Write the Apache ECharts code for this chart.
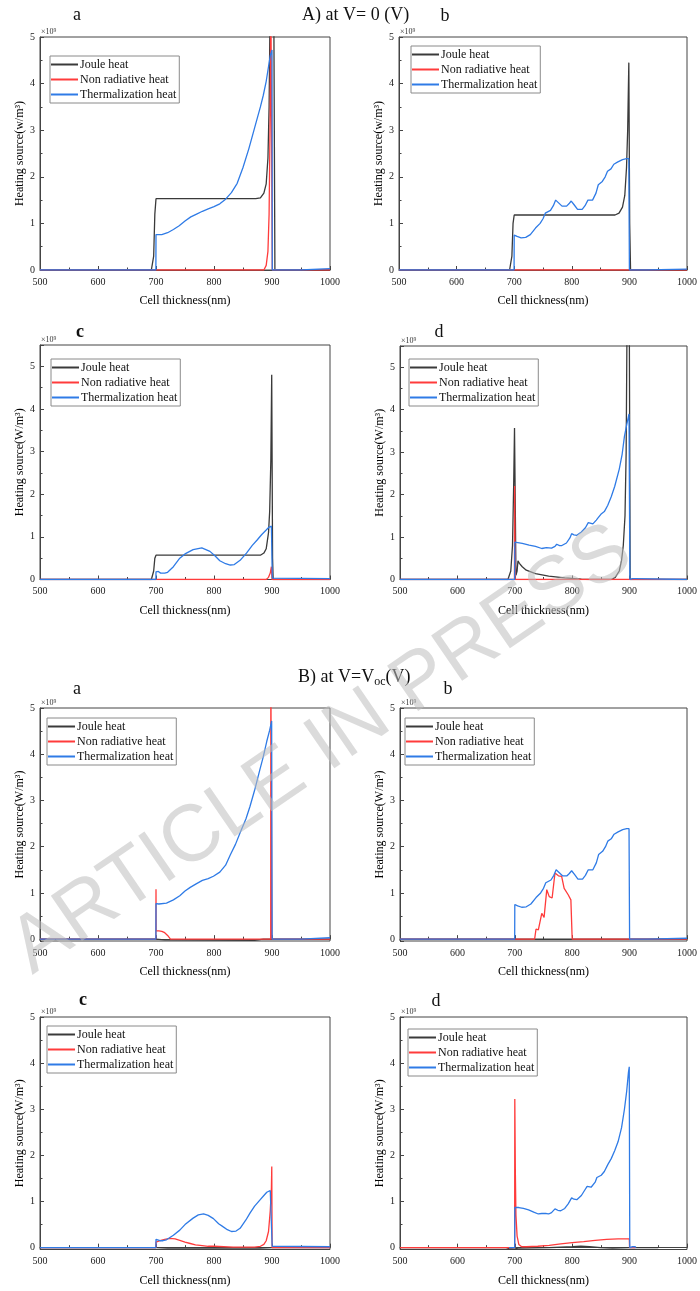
<!DOCTYPE html>
<html><head><meta charset="utf-8">
<script src="https://cdn.jsdelivr.net/npm/echarts@6/dist/echarts.min.js"></script>
<style>html,body{margin:0;padding:0;background:#fff}#c{width:700px;height:1291px}</style>
</head><body><div id="c"></div>
<script>
// ---------- tick labels ----------
const xTickValues = [500, 600, 700, 800, 900, 1000];
const yTickValues = [0, 1, 2, 3, 4, 5];
const seriesNames = ['Joule heat', 'Non radiative heat', 'Thermalization heat'];

// ---------- A) at V = 0 ----------
const A_a_joule = [[500,0],[692,0],[696,0.3],[698,1.2],[700,1.53],[800,1.53],[872,1.53],[880,1.55],[886,1.65],[890,1.85],[893,2.4],[895,3.5],[897,6],[903,6],[905,0],[1000,0]];
const A_a_nonrad = [[500,0],[886,0],[890,0.1],[893,0.4],[895,1.2],[897,3.5],[898,6],[899.5,6],[900.5,0],[1000,0]];
const A_a_therm = [[500,0],[699.8,0],[700,0.76],[710,0.76],[720,0.8],[730,0.87],[740,0.95],[750,1.05],[760,1.14],[770,1.2],[780,1.26],[790,1.31],[800,1.36],[810,1.42],[820,1.52],[830,1.66],[840,1.86],[850,2.2],[860,2.6],[870,3.05],[880,3.5],[885,3.75],[890,4.05],[897,4.6],[900,4.72],[900.5,0],[950,0],[951,0.03],[1000,0.03]];

const A_b_joule = [[500,0],[692,0],[696,0.3],[698,1.0],[700,1.18],[800,1.18],[875,1.18],[882,1.22],[888,1.35],[892,1.6],[895,2.2],[897,3.0],[899,4.45],[900.5,1.0],[902,0],[1000,0]];
const A_b_nonrad = [[500,0],[1000,0]];
const A_b_therm = [[500,0],[699.8,0],[700,0.75],[705,0.72],[712,0.69],[720,0.7],[728,0.76],[737,0.9],[745,1.0],[750,1.1],[754,1.22],[763,1.28],[768,1.38],[772,1.5],[778,1.43],[783,1.37],[791,1.37],[795,1.42],[799,1.48],[804,1.4],[810,1.3],[818,1.3],[823,1.38],[828,1.5],[836,1.5],[842,1.65],[846,1.83],[853,1.9],[858,2.0],[862,2.12],[868,2.17],[873,2.27],[880,2.32],[888,2.37],[895,2.39],[899,2.39],[900,0],[930,0],[931,0.02],[1000,0.02]];

const A_c_joule = [[500,0],[692,0],[696,0.2],[698,0.5],[700,0.57],[800,0.57],[880,0.57],[886,0.62],[890,0.72],[894,1.1],[896,1.6],[898,2.8],[899.5,4.8],[901,0.5],[902,0],[1000,0]];
const A_c_nonrad = [[500,0],[890,0],[894,0.05],[897,0.15],[899,0.3],[900,0],[1000,0]];
const A_c_therm = [[500,0],[699.8,0],[700,0.18],[704,0.19],[708,0.15],[715,0.15],[720,0.17],[730,0.3],[741,0.5],[750,0.6],[764,0.7],[779,0.74],[793,0.66],[802,0.55],[810,0.44],[820,0.37],[828,0.34],[835,0.35],[845,0.45],[856,0.62],[866,0.8],[874,0.92],[882,1.05],[890,1.16],[895,1.23],[899,1.25],[900.5,0.03],[1000,0.02]];

const A_d_joule = [[500,0],[688,0],[693,0.2],[696,0.8],[698,2.2],[699.5,3.57],[701,1.5],[702,0.1],[704,0.2],[705.5,0.44],[708,0.38],[713,0.3],[720,0.22],[736,0.14],[759,0.08],[787,0.04],[816,0.01],[830,0],[868,0],[875,0.05],[882,0.2],[886,0.45],[889,0.8],[892,1.5],[894,3],[895.5,6],[899.5,6],[901,0],[1000,0]];
const A_d_nonrad = [[500,0],[699.4,0],[699.7,2.2],[700.3,2.2],[700.6,0],[1000,0]];
const A_d_therm = [[500,0],[699.8,0],[700,0.88],[713,0.85],[725,0.81],[736,0.78],[747,0.73],[755,0.75],[758,0.77],[764,0.74],[770,0.78],[773,0.83],[778,0.8],[782,0.8],[790,0.86],[796,0.98],[799,1.08],[803,1.05],[808,1.04],[816,1.12],[823,1.22],[828,1.34],[836,1.31],[842,1.4],[845,1.45],[851,1.55],[856,1.6],[862,1.75],[868,1.95],[874,2.19],[882,2.6],[887,2.95],[891,3.37],[895,3.65],[899,3.9],[900.5,0],[905,0.02],[910,0.02],[911,0],[1000,0]];

// ---------- B) at V = Voc ----------
const B_a_joule = [[500,0],[700,0],[715,-0.015],[800,-0.02],[870,-0.025],[885,0],[1000,0]];
const B_a_nonrad = [[500,0],[699.8,0],[700,1.08],[700.3,0.18],[705,0.18],[710,0.17],[715,0.14],[720,0.08],[725,0],[897.8,0],[898,6],[899.5,6],[899.7,0],[1000,0]];
const B_a_therm = [[500,0],[699.8,0],[700,0.77],[705,0.76],[718,0.78],[730,0.85],[741,0.94],[750,1.04],[759,1.12],[770,1.2],[780,1.27],[790,1.31],[799,1.36],[810,1.45],[820,1.6],[828,1.82],[837,2.05],[845,2.3],[855,2.6],[862,2.87],[870,3.22],[879,3.66],[885,3.95],[891,4.28],[896,4.52],[899.4,4.72],[900.3,0],[950,0],[951,0.03],[1000,0.03]];

const B_b_joule = [[500,0],[1000,0]];
const B_b_nonrad = [[500,0],[734.5,0],[737,0.22],[741,0.2],[743,0.22],[747,0.56],[751,0.47],[755.7,1.07],[760,0.92],[765,0.89],[770,1.43],[776,1.37],[781.6,1.36],[786,1.1],[793,0.96],[797.7,0.85],[800,0],[812,0],[813,0.02],[815,0],[1000,0]];
const B_b_therm = [[500,0],[699.8,0],[700,0.75],[705,0.72],[712,0.69],[720,0.7],[728,0.76],[737,0.9],[745,1.0],[750,1.1],[754,1.22],[763,1.28],[768,1.38],[772,1.5],[778,1.43],[783,1.37],[791,1.37],[795,1.42],[799,1.48],[804,1.4],[810,1.3],[818,1.3],[823,1.38],[828,1.5],[836,1.5],[842,1.65],[846,1.83],[853,1.9],[858,2.0],[862,2.12],[868,2.17],[873,2.27],[880,2.32],[888,2.37],[895,2.39],[899,2.39],[900,0],[930,0],[931,0.02],[1000,0.02]];

const B_c_joule = [[500,0],[700,0],[720,-0.01],[880,-0.01],[900,0],[1000,0]];
const B_c_nonrad = [[500,0],[699.8,0],[700,0.12],[707,0.15],[715,0.18],[724,0.2],[733,0.19],[741,0.16],[750,0.12],[759,0.09],[768,0.06],[776,0.05],[790,0.03],[800,0.03],[833,0.01],[870,0.01],[880,0.03],[886,0.07],[890,0.15],[894,0.35],[897,0.8],[899,1.3],[899.6,1.76],[900.2,0],[1000,0]];
const B_c_therm = [[500,0],[699.8,0],[700,0.18],[703,0.19],[707,0.15],[712,0.15],[718,0.17],[730,0.27],[741,0.38],[750,0.5],[764,0.64],[773,0.71],[782,0.73],[790,0.7],[799,0.63],[808,0.52],[816,0.45],[823,0.39],[830,0.35],[838,0.36],[845,0.42],[855,0.6],[862,0.75],[870,0.9],[879,1.03],[886,1.13],[891,1.2],[897,1.24],[899.5,1.25],[900.3,0.03],[1000,0.02]];

const B_d_joule = [[500,0],[685,0],[690,-0.02],[700,-0.03],[705,-0.01],[760,0],[800,0.02],[815,0.03],[830,0.02],[850,0],[870,-0.01],[900,0],[950,0]];
const B_d_nonrad = [[500,0],[699.7,0],[700,3.22],[701,1.6],[702,0.7],[704,0.25],[707,0.07],[712,0.02],[720,0.02],[740,0.03],[760,0.05],[780,0.08],[800,0.11],[820,0.13],[840,0.16],[860,0.18],[880,0.19],[899.5,0.19],[900,0],[910,0]];
const B_d_therm = [[690,0],[699.8,0],[700,0.87],[707,0.87],[715,0.85],[724,0.82],[733,0.77],[741,0.73],[747,0.74],[750,0.76],[755,0.74],[759,0.73],[764,0.76],[770,0.84],[775,0.81],[780,0.8],[787,0.85],[793,0.95],[799,1.08],[803,1.05],[808,1.04],[816,1.13],[822,1.25],[826,1.33],[833,1.31],[840,1.42],[843,1.52],[850.6,1.57],[856,1.65],[862,1.8],[868,1.93],[874,2.1],[880,2.3],[886,2.6],[891,3.0],[895,3.4],[898,3.8],[899.4,3.92],[900.3,0],[905,0.02],[910,0.02],[911,0]];

// ---------- layout (positions only) ----------
const panels = [
  {d:[A_a_joule,A_a_nonrad,A_a_therm], grid:{left:40,top:37,width:290,height:233}, ymin:0, ymax:5, unit:'w', legend:{left:50,top:56}, letter:{t:'a',x:77,y:15}},
  {d:[A_b_joule,A_b_nonrad,A_b_therm], grid:{left:399,top:37,width:290,height:233}, ymin:0, ymax:5, unit:'w', legend:{left:411,top:46}, letter:{t:'b',x:445,y:16}},
  {d:[A_c_joule,A_c_nonrad,A_c_therm], grid:{left:40,top:345,width:290,height:234.5}, ymin:0, ymax:5.5, unit:'W', legend:{left:51,top:359}, letter:{t:'c',x:80,y:332,bold:true}},
  {d:[A_d_joule,A_d_nonrad,A_d_therm], grid:{left:400,top:346,width:290,height:233.5}, ymin:0, ymax:5.5, unit:'W', legend:{left:409,top:359}, letter:{t:'d',x:439,y:332}},
  {d:[B_a_joule,B_a_nonrad,B_a_therm], grid:{left:40,top:708,width:290,height:233}, ymin:-0.04, ymax:5, unit:'W', legend:{left:47,top:718}, letter:{t:'a',x:77,y:689}},
  {d:[B_b_joule,B_b_nonrad,B_b_therm], grid:{left:400,top:708,width:290,height:233}, ymin:-0.04, ymax:5, unit:'W', legend:{left:405,top:718}, letter:{t:'b',x:448,y:689}},
  {d:[B_c_joule,B_c_nonrad,B_c_therm], grid:{left:40,top:1017,width:290,height:232.5}, ymin:-0.04, ymax:5, unit:'W', legend:{left:47,top:1026}, letter:{t:'c',x:83,y:1000,bold:true}},
  {d:[B_d_joule,B_d_nonrad,B_d_therm], grid:{left:400,top:1017,width:290,height:232.5}, ymin:-0.04, ymax:5, unit:'W', legend:{left:408,top:1029}, letter:{t:'d',x:436,y:1001}}
];

const colors = ['#3a3a3a', '#ff3b3b', '#2f7be6'];
const SERIF = '"Liberation Serif","Times New Roman",serif';
const intLabel = v => {
  const r = Math.round(v);
  return Math.abs(v - r) < 1e-6 && yTickValues.indexOf(r) >= 0 ? String(r) : '';
};

const grids = [], xAxes = [], yAxes = [], series = [], legends = [], graphics = [];
panels.forEach((p, i) => {
  grids.push(Object.assign({show:true, borderColor:'#444', borderWidth:1, backgroundColor:'transparent', containLabel:false}, p.grid));
  xAxes.push({
    type:'value', gridIndex:i, min:xTickValues[0], max:xTickValues[xTickValues.length-1],
    interval:xTickValues[1]-xTickValues[0],
    name:'Cell thickness(nm)', nameLocation:'middle', nameGap:25,
    nameTextStyle:{fontFamily:SERIF, fontSize:12, color:'#000'},
    axisLine:{show:true, lineStyle:{color:'#444', width:1}},
    axisTick:{show:true, inside:true, length:4, lineStyle:{color:'#444'}},
    minorTick:{show:true, splitNumber:2, length:2.5, lineStyle:{color:'#444'}},
    splitLine:{show:false},
    axisLabel:{fontFamily:SERIF, fontSize:10, color:'#222', margin:7, formatter:v => String(v)}
  });
  const y = {
    type:'value', gridIndex:i, min:p.ymin, max:p.ymax,
    name:'Heating source(' + p.unit + '/m³)', nameLocation:'middle', nameGap:14, nameRotate:90,
    nameTextStyle:{fontFamily:SERIF, fontSize:12, color:'#000'},
    axisLine:{show:true, lineStyle:{color:'#444', width:1}},
    axisTick:{show:true, inside:true, length:4, lineStyle:{color:'#444'}},
    minorTick:{show:true, splitNumber:2, length:2.5, lineStyle:{color:'#444'}},
    splitLine:{show:false},
    axisLabel:{fontFamily:SERIF, fontSize:10, color:'#222', margin:5, formatter:intLabel, showMinLabel:true, showMaxLabel:true}
  };
  if (p.ymin === 0) y.interval = yTickValues[1] - yTickValues[0];
  yAxes.push(y);
  seriesNames.forEach((nm, k) => {
    series.push({
      type:'line', name:nm, xAxisIndex:i, yAxisIndex:i, data:p.d[k],
      symbol:'none', showSymbol:false, clip:true, animation:false,
      lineStyle:{color:colors[k], width:1.3}, itemStyle:{color:colors[k]}, z:2+k
    });
  });
  legends.push({
    data:seriesNames, left:p.legend.left, top:p.legend.top, orient:'vertical',
    icon:'rect', itemWidth:27, itemHeight:2, itemGap:2,
    padding:[2,3,2,1], borderColor:'#8a8a8a', borderWidth:1, backgroundColor:'#fff',
    textStyle:{fontFamily:SERIF, fontSize:12, color:'#111', lineHeight:13, padding:[0,0,0,-3]},
    selectedMode:false
  });
  graphics.push({type:'text', left:p.grid.left + 1, top:p.grid.top - 9,
    style:{text:'×10⁹', fontFamily:SERIF, fontSize:8, fill:'#333'}});
  graphics.push({type:'text', x:p.letter.x, y:p.letter.y,
    style:{text:p.letter.t, fontFamily:SERIF, fontSize:18, fontWeight:p.letter.bold?'bold':'normal', fill:'#111', align:'center', verticalAlign:'middle'}});
});

graphics.push({type:'text', x:302, y:15,
  style:{text:'A) at V= 0 (V)', fontFamily:SERIF, fontSize:18, fill:'#111', align:'left', verticalAlign:'middle'}});
graphics.push({type:'text', x:298, y:677,
  style:{text:'B) at V=V{sub|oc}(V)', fontFamily:SERIF, fontSize:18, fill:'#111', align:'left', verticalAlign:'middle',
    rich:{sub:{fontFamily:SERIF, fontSize:12, fill:'#111', padding:[10,0,0,0]}}}});
graphics.push({type:'text', x:322, y:750, rotation:0.6, z:100,
  style:{text:'ARTICLE IN PRESS', fontFamily:'"Liberation Sans",Arial,sans-serif', fontSize:80, fill:'rgba(190,190,190,0.55)', align:'center', verticalAlign:'middle'}});

const chart = echarts.init(document.getElementById('c'), null, {renderer:'canvas'});
chart.setOption({
  animation:false, backgroundColor:'#fff',
  grid:grids, xAxis:xAxes, yAxis:yAxes, series:series, legend:legends, graphic:graphics
});
</script></body></html>
